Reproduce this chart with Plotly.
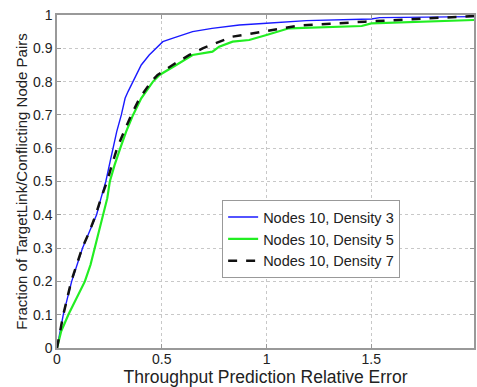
import plotly.graph_objects as go

# Data
blue_x = [0, 0.03, 0.07, 0.122, 0.155, 0.189, 0.21, 0.233, 0.25, 0.268, 0.285, 0.307, 0.325, 0.339, 0.363,
          0.402, 0.44, 0.474, 0.505, 0.55, 0.647, 0.74, 0.87, 1.0, 1.19, 1.5, 1.54, 1.99]
blue_y = [0, 0.1, 0.2, 0.3, 0.35, 0.4, 0.45, 0.5, 0.55, 0.6, 0.65, 0.7, 0.75, 0.77, 0.8,
          0.85, 0.88, 0.9, 0.92, 0.93, 0.95, 0.96, 0.97, 0.975, 0.983, 0.988, 0.992, 0.995]

green_x = [0, 0.02, 0.054, 0.095, 0.133, 0.16, 0.18, 0.2, 0.223, 0.24, 0.252, 0.275, 0.302, 0.33, 0.363,
           0.402, 0.458, 0.489, 0.569, 0.647, 0.742, 0.774, 0.838, 0.917, 1.0, 1.107, 1.454, 1.5, 1.99]
green_y = [0, 0.05, 0.1, 0.15, 0.2, 0.25, 0.3, 0.35, 0.4, 0.45, 0.5, 0.55, 0.6, 0.65, 0.7,
           0.75, 0.8, 0.82, 0.85, 0.88, 0.89, 0.905, 0.92, 0.925, 0.94, 0.96, 0.967, 0.975, 0.985]

black_x = [0, 0.03, 0.068, 0.12, 0.155, 0.185, 0.21, 0.239, 0.262, 0.287, 0.32, 0.355, 0.394, 0.45, 0.48,
           0.552, 0.632, 0.695, 0.838, 1.0, 1.154, 1.47, 1.79, 1.99]
black_y = [0, 0.1, 0.2, 0.3, 0.35, 0.4, 0.45, 0.5, 0.55, 0.6, 0.65, 0.7, 0.75, 0.8, 0.82,
           0.85, 0.88, 0.9, 0.935, 0.953, 0.968, 0.98, 0.99, 0.997]

names = ["Nodes 10, Density 3", "Nodes 10, Density 5", "Nodes 10, Density 7"]
x_ticks = [0, 0.5, 1, 1.5]
x_tick_text = ["0", "0.5", "1", "1.5"]
y_ticks = [0, 0.1, 0.2, 0.3, 0.4, 0.5, 0.6, 0.7, 0.8, 0.9, 1]
y_tick_text = ["0", "0.1", "0.2", "0.3", "0.4", "0.5", "0.6", "0.7", "0.8", "0.9", "1"]

FONT = "Liberation Sans, Arial, sans-serif"

fig = go.Figure()
fig.add_trace(go.Scatter(x=blue_x, y=blue_y, mode="lines", name=names[0],
                         line=dict(color="#1a1aff", width=1.4)))
fig.add_trace(go.Scatter(x=green_x, y=green_y, mode="lines", name=names[1],
                         line=dict(color="#22ee22", width=2.2)))
fig.add_trace(go.Scatter(x=black_x, y=black_y, mode="lines", name=names[2],
                         line=dict(color="#111111", width=2.5, dash="dash")))

axis_common = dict(
    showline=True, linecolor="#999999", linewidth=1.5, mirror="ticks",
    ticks="inside", ticklen=4, tickcolor="#999999",
    showgrid=True, gridcolor="#c8c8c8", griddash="dot", gridwidth=1,
    zeroline=False, tickfont=dict(family=FONT, size=14, color="#222222"),
)

fig.update_layout(
    width=477, height=387,
    margin=dict(l=57, r=1, t=15, b=39),
    paper_bgcolor="white", plot_bgcolor="white",
    font=dict(family=FONT, color="#222222"),
    xaxis=dict(range=[0, 1.99], tickvals=x_ticks, ticktext=x_tick_text,
               title=dict(text="Throughput Prediction Relative Error", font=dict(size=17.5), standoff=5),
               ticklabelstandoff=-3,
               **axis_common),
    yaxis=dict(range=[0, 1], tickvals=y_ticks, ticktext=y_tick_text,
               title=dict(text="Fraction of TargetLink/Conflicting Node Pairs", font=dict(size=15), standoff=2),
               **axis_common),
    legend=dict(x=0.396, y=0.444, xanchor="left", yanchor="top",
                bgcolor="white", bordercolor="#999999", borderwidth=1,
                font=dict(family=FONT, size=14.5, color="#222222"),
                tracegroupgap=0, itemwidth=30),
    showlegend=True,
)

fig.write_html("out.html")
